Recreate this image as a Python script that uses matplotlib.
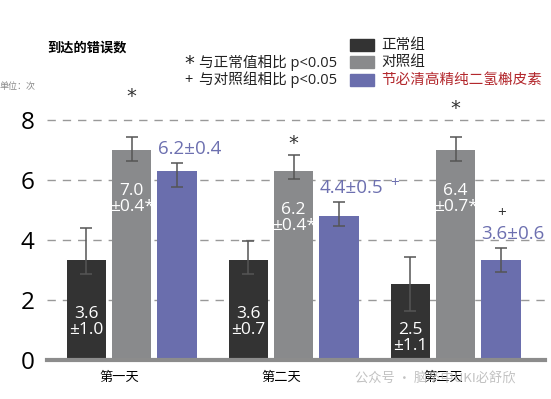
import matplotlib
matplotlib.use("Agg")
import matplotlib.pyplot as plt
import numpy as np

plt.rcParams['font.family'] = ['Open Sans', 'Noto Sans CJK SC', 'DejaVu Sans']

days = ['第一天', '第二天', '第三天']
series_names = ['正常组', '对照组', '节必清高精纯二氢槲皮素']
normal = [3.33, 3.33, 2.52]
control = [7.0, 6.31, 7.0]
drug = [6.31, 4.81, 3.33]
normal_err_low = [0.45, 0.45, 0.90]
normal_err_high = [1.06, 0.65, 0.91]
control_err_low = [0.38, 0.29, 0.38]
control_err_high = [0.42, 0.53, 0.42]
drug_err_low = [0.54, 0.34, 0.40]
drug_err_high = [0.27, 0.47, 0.41]
normal_labels = ['3.6\n±1.0', '3.6\n±0.7', '2.5\n±1.1']
control_labels = ['7.0\n±0.4*', '6.2\n±0.4*', '6.4\n±0.7*']
drug_labels = ['6.2±0.4', '4.4±0.5', '3.6±0.6']
drug_plus = ['', '+', '']
yticks = [0, 2, 4, 6, 8]

c_normal = '#333333'
c_control = '#898a8c'
c_drug = '#6a6ead'
c_drug_txt = '#6d70b0'
c_err = '#555555'

W, H = 551, 399
fig = plt.figure(figsize=(W / 100, H / 100), dpi=100)
ax = fig.add_axes([47 / W, 39 / H, 498 / W, 270 / H])

x = np.arange(len(days))
bw = 0.243
off = 0.28
ax.bar(x - off, normal, bw, color=c_normal, zorder=2)
ax.bar(x, control, bw, color=c_control, zorder=2)
ax.bar(x + off, drug, bw, color=c_drug, zorder=2)
ekw = dict(fmt='none', ecolor=c_err, elinewidth=1.1, capsize=4, capthick=1.1, zorder=3)
ax.errorbar(x - off, normal, yerr=[normal_err_low, normal_err_high], **ekw)
ax.errorbar(x, control, yerr=[control_err_low, control_err_high], **ekw)
ax.errorbar(x + off, drug, yerr=[drug_err_low, drug_err_high], **ekw)

ax.set_xlim(-0.523, 2.551)
ax.set_ylim(0, 9)
ax.set_yticks(yticks)
ax.set_yticklabels([str(v) for v in yticks], fontsize=17.5, family=['Open Sans'])
ax.tick_params(axis='y', length=0, pad=9)
ax.set_xticks(x - 0.08)
ax.set_xticklabels(days, fontsize=9.5, family=['Noto Sans CJK SC'])
ax.tick_params(axis='x', length=0, pad=8)
for s in ['top', 'right', 'left']:
    ax.spines[s].set_visible(False)
ax.spines['bottom'].set_color('#8c8c8c')
ax.spines['bottom'].set_linewidth(3)
ax.spines['bottom'].set_zorder(4)
for v in yticks[1:]:
    ax.axhline(v, color='#999999', lw=1, ls=(0, (6, 5)), zorder=1)

# white labels inside bars
normal_label_y = [1.25, 1.25, 0.72]
control_label_y = [5.37, 4.72, 5.38]
for i in range(3):
    ax.text(x[i] - off, normal_label_y[i], normal_labels[i], color='white', fontsize=12.5,
            ha='center', va='center', linespacing=1.0, zorder=5)
    ax.text(x[i], control_label_y[i], control_labels[i], color='white', fontsize=12.5,
            ha='center', va='center', linespacing=1.0, zorder=5)
    top = drug[i] + drug_err_high[i]
    ax.text(x[i] + off + 0.075, top + 0.45, drug_labels[i], color=c_drug_txt, fontsize=13.5,
            ha='center', va='center', zorder=5)
    if drug_plus[i]:
        ax.text(x[i] + off + 0.34, top + 0.6, drug_plus[i], color=c_drug_txt, fontsize=11,
                ha='center', va='center', zorder=5)

# significance markers
star_y = [8.77, 7.23, 8.4]
for i in range(3):
    ax.text(x[i], star_y[i], '*', fontsize=14, ha='center', va='center', color='#333333',
            family=['DejaVu Sans'])
ax.text(x[2] + off, 4.9, '+', fontsize=11, ha='center', va='center', color='#333333')

# titles and legends
fig.text(47 / W, 1 - 48 / H, '到达的错误数', fontsize=9.5, fontweight='bold',
         family=['Noto Sans CJK SC'], va='center', ha='left')
fig.text(0, 1 - 87 / H, '单位：次', fontsize=6.5, color='#888888',
         family=['Noto Sans CJK SC'], va='center', ha='left')
fig.text(184 / W, 1 - 63 / H, '*', fontsize=14, family=['DejaVu Sans'],
         va='center', ha='left', color='#222222')
fig.text(199 / W, 1 - 63 / H, '与正常值相比 p<0.05', fontsize=10.5,
         family=['Open Sans', 'Noto Sans CJK SC'], va='center', ha='left', color='#222222')
fig.text(184 / W, 1 - 80 / H, '+', fontsize=10.5,
         family=['Open Sans'], va='center', ha='left', color='#222222')
fig.text(199 / W, 1 - 80 / H, '与对照组相比 p<0.05', fontsize=10.5,
         family=['Open Sans', 'Noto Sans CJK SC'], va='center', ha='left', color='#222222')

leg_colors = [c_normal, c_control, c_drug]
leg_text_colors = ['#222222', '#222222', '#b3282d']
leg_y = [45, 62, 80]
for col, tcol, name, yy in zip(leg_colors, leg_text_colors, series_names, leg_y):
    fig.patches.append(plt.Rectangle((350 / W, 1 - (yy + 6) / H), 24 / W, 12 / H,
                                     transform=fig.transFigure, color=col))
    fig.text(381 / W, 1 - yy / H, name, fontsize=10.5, color=tcol,
             family=['Noto Sans CJK SC'], va='center', ha='left')

# watermark
fig.text(355 / W, 1 - 379 / H, '公众号 · 脑卒中UKI必舒欣', fontsize=9.5, color='#bbbbbb',
         family=['Noto Sans CJK SC'], va='center', ha='left', alpha=0.9)

fig.savefig('out.png', dpi=100)
